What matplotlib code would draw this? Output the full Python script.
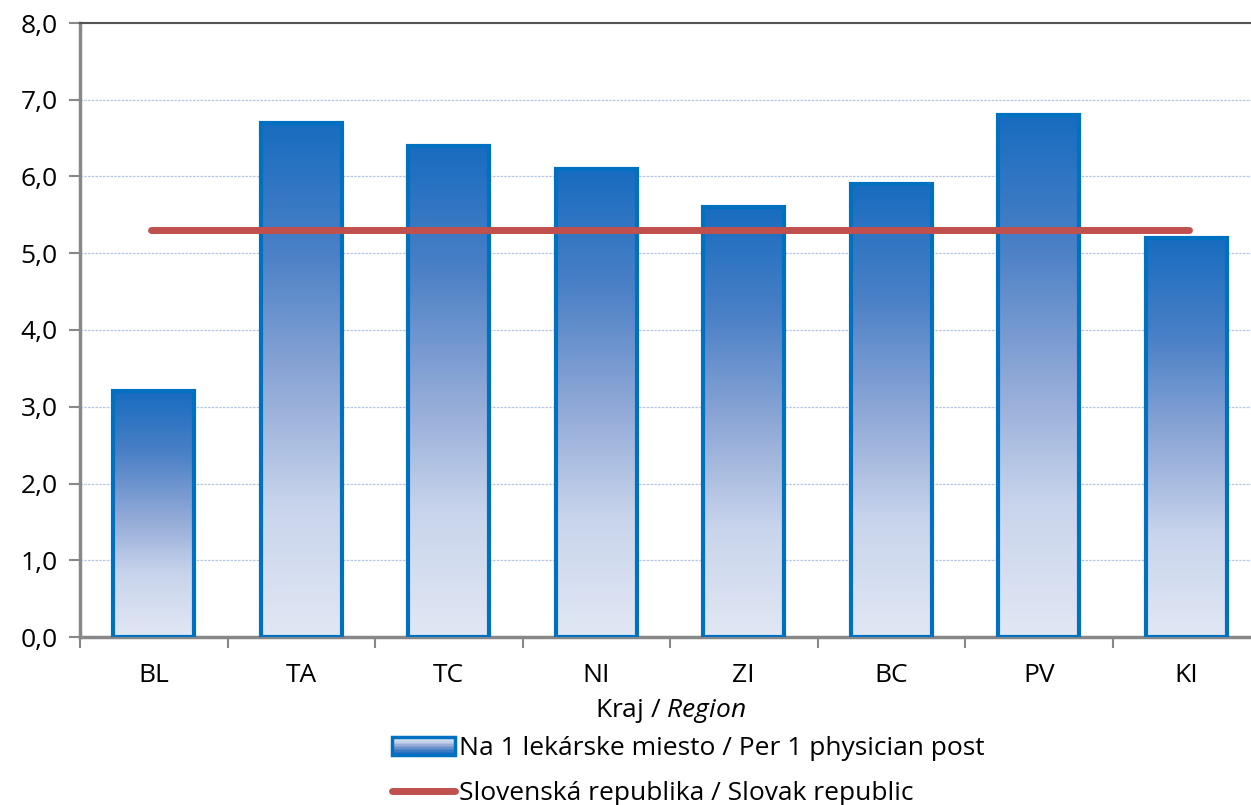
import matplotlib
matplotlib.use("Agg")
import matplotlib.pyplot as plt
import numpy as np
from matplotlib.colors import LinearSegmentedColormap
from matplotlib.patches import Rectangle
from matplotlib.lines import Line2D
from matplotlib.legend_handler import HandlerBase

regions = ["BL", "TA", "TC", "NI", "ZI", "BC", "PV", "KI"]
per_post = [3.2, 6.7, 6.4, 6.1, 5.6, 5.9, 6.8, 5.2]
slovakia = 5.3
y_ticks = [0, 1, 2, 3, 4, 5, 6, 7, 8]

plt.rcParams["font.family"] = ["Open Sans", "DejaVu Sans"]
plt.rcParams["mathtext.fontset"] = "custom"
plt.rcParams["mathtext.it"] = "Open Sans:italic"
plt.rcParams["mathtext.rm"] = "Open Sans"

EDGE = "#0070C0"
RED = "#C0504D"
FS = 19
grad = LinearSegmentedColormap.from_list(
    "bar", ["#E1E7F4", "#C9D5EC", "#8EA7D6", "#4A80C6", "#186CC0"])

fig = plt.figure(figsize=(12.51, 8.05), dpi=100)
ax = fig.add_axes([80 / 1251, 168 / 805, 1180 / 1251, 614 / 805])

x = np.arange(len(regions))
width = 0.55
gimg = np.linspace(0, 1, 256).reshape(-1, 1)
for xi, v in zip(x, per_post):
    ax.imshow(gimg, cmap=grad, origin="lower", aspect="auto",
              extent=(xi - width / 2, xi + width / 2, 0, v), zorder=2)
    ax.add_patch(Rectangle((xi - width / 2, 0), width, v, fill=False,
                           edgecolor=EDGE, linewidth=3, zorder=3))

ax.plot([x[0] - 0.02, x[-1] + 0.02], [slovakia, slovakia], color=RED,
        linewidth=5, solid_capstyle="round", zorder=4)

ax.set_xlim(-0.5, len(regions) - 0.5)
ax.set_ylim(0, 8)
ax.set_yticks(y_ticks)
ax.set_yticklabels([f"{t:.1f}".replace(".", ",") for t in y_ticks], fontsize=FS)
ax.set_xticks(x)
ax.set_xticklabels(regions, fontsize=FS)
ax.set_xticks(np.arange(len(regions) + 1) - 0.5, minor=True)
ax.tick_params(axis="x", which="major", length=0, pad=19)
ax.tick_params(axis="x", which="minor", length=8, width=1.5, color="#888888")
ax.tick_params(axis="y", length=8, width=1.5, color="#888888", pad=8)
ax.yaxis.grid(True, linestyle=(0, (2, 1)), color="#B4C6E7", linewidth=0.9)
ax.set_axisbelow(True)

for side in ["left", "bottom"]:
    ax.spines[side].set_color("#888888")
    ax.spines[side].set_linewidth(2.5)
ax.spines["top"].set_color("#555555")
ax.spines["top"].set_linewidth(1.5)
ax.spines["right"].set_visible(False)

ax.set_xlabel("Kraj / $\\mathit{Region}$", fontsize=FS, labelpad=6)


class GradientHandler(HandlerBase):
    def create_artists(self, legend, orig_handle, xdescent, ydescent,
                       width, height, fontsize, trans):
        arts = []
        n = 12
        for i in range(n):
            c = grad(i / (n - 1))
            arts.append(Rectangle((-xdescent, -ydescent + height * (n - 1 - i) / n),
                                  width, height / n, facecolor=c,
                                  edgecolor="none", transform=trans))
        arts.append(Rectangle((-xdescent, -ydescent), width, height, fill=False,
                              edgecolor=EDGE, linewidth=2.5, transform=trans))
        return arts


bar_handle = Rectangle((0, 0), 1, 1)
line_handle = Line2D([0], [0], color=RED, linewidth=5, solid_capstyle="round")
fig.legend([bar_handle, line_handle],
           ["Na 1 lekárske miesto / Per 1 physician post",
            "Slovenská republika / Slovak republic"],
           handler_map={Rectangle: GradientHandler()},
           loc="upper left", bbox_to_anchor=(392 / 1251, 69 / 805),
           frameon=False, fontsize=FS, handlelength=2.4, handleheight=0.7,
           handletextpad=0.15, labelspacing=0.75, borderpad=0,
           borderaxespad=0)

fig.savefig("out.png", dpi=100)
